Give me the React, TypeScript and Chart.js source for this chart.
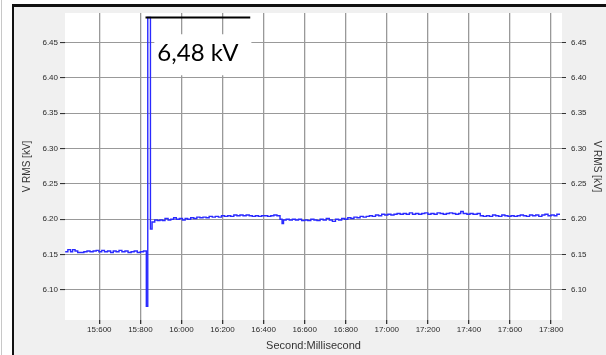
import React, { useEffect, useRef } from 'react';
import { Chart, registerables } from 'chart.js';
Chart.register(...registerables);

const timesMs = [
  15434, 15447, 15460, 15470, 15482, 15495, 15510, 15525, 15540, 15555,
  15570, 15585, 15598, 15612, 15625, 15640, 15655, 15668, 15682, 15696,
  15710, 15725, 15740, 15755, 15770, 15785, 15800, 15815, 15829, 15836,
  15849, 15857, 15870, 15883, 15895, 15908, 15920, 15935, 15948, 15962,
  15975, 15990, 16005, 16018, 16030, 16045, 16060, 16075, 16090, 16105,
  16120, 16135, 16150, 16165, 16180, 16195, 16210, 16225, 16240, 16255,
  16270, 16285, 16300, 16315, 16330, 16345, 16360, 16375, 16390, 16405,
  16420, 16435, 16450, 16465, 16480, 16490, 16497, 16510, 16525, 16540,
  16555, 16570, 16585, 16600, 16615, 16630, 16645, 16660, 16675, 16690,
  16705, 16720, 16735, 16750, 16765, 16780, 16795, 16810, 16825, 16840,
  16855, 16870, 16885, 16900, 16915, 16930, 16945, 16960, 16975, 16990,
  17005, 17020, 17035, 17050, 17065, 17080, 17095, 17110, 17125, 17140,
  17155, 17170, 17185, 17200, 17215, 17230, 17245, 17260, 17275, 17290,
  17305, 17320, 17335, 17350, 17360, 17372, 17390, 17405, 17420, 17440,
  17455, 17470, 17485, 17500, 17515, 17530, 17545, 17560, 17575, 17590,
  17605, 17620, 17635, 17650, 17665, 17680, 17695, 17710, 17725, 17740,
  17755, 17770, 17785, 17800, 17815, 17828, 17840,
];

const vrmsKv = [
  6.154, 6.157, 6.154, 6.157, 6.155, 6.153, 6.153, 6.154, 6.155, 6.154,
  6.155, 6.156, 6.154, 6.156, 6.154, 6.155, 6.153, 6.155, 6.154, 6.156,
  6.154, 6.155, 6.153, 6.154, 6.155, 6.153, 6.154, 6.155, 6.077, 6.485,
  6.186, 6.196, 6.199, 6.198, 6.199, 6.198, 6.201, 6.199, 6.200, 6.202,
  6.200, 6.201, 6.199, 6.201, 6.200, 6.202, 6.201, 6.203, 6.202, 6.203,
  6.202, 6.204, 6.203, 6.204, 6.203, 6.205, 6.204, 6.205, 6.204, 6.206,
  6.205, 6.206, 6.205, 6.206, 6.205, 6.204, 6.205, 6.204, 6.205, 6.205,
  6.204, 6.205, 6.206, 6.205, 6.200, 6.194, 6.199, 6.200, 6.199, 6.200,
  6.199, 6.200, 6.198, 6.199, 6.198, 6.200, 6.199, 6.198, 6.200, 6.199,
  6.201, 6.199, 6.197, 6.200, 6.199, 6.201, 6.200, 6.202, 6.201, 6.203,
  6.202, 6.204, 6.203, 6.204, 6.205, 6.204, 6.206, 6.205, 6.207, 6.206,
  6.207, 6.206, 6.207, 6.208, 6.207, 6.208, 6.207, 6.209, 6.207, 6.208,
  6.207, 6.208, 6.209, 6.207, 6.208, 6.207, 6.209, 6.208, 6.207, 6.208,
  6.209, 6.208, 6.207, 6.208, 6.211, 6.208, 6.207, 6.208, 6.207, 6.208,
  6.205, 6.204, 6.205, 6.204, 6.206, 6.205, 6.204, 6.206, 6.205, 6.204,
  6.205, 6.204, 6.205, 6.206, 6.205, 6.204, 6.206, 6.205, 6.206, 6.204,
  6.206, 6.207, 6.205, 6.206, 6.205, 6.207, 6.206,
];

const xTicks = [15600, 15800, 16000, 16200, 16400, 16600, 16800, 17000, 17200, 17400, 17600, 17800];
const yTicks = [6.10, 6.15, 6.20, 6.25, 6.30, 6.35, 6.40, 6.45];
const xRange = [15433, 17853];
const yRange = [6.0576, 6.4914];

const yTitle = 'V RMS [kV]';
const xTitle = 'Second:Millisecond';

const annotationText = '6,48 kV';
const annotationLineValue = 6.485;
const annotationLineFrom = 15825;
const annotationLineTo = 16335;
const annotationTextX = 16080;
const annotationTextY = 6.4345;

const fmtTime = (v: number) => `${Math.floor(v / 1000)}:${String(Math.round(v % 1000)).padStart(3, '0')}`;

export default function App() {
  const ref = useRef<HTMLCanvasElement>(null);
  useEffect(() => {
    const tickFont = { family: 'Liberation Sans', size: 8 };
    const bgPlugin = {
      id: 'plotBg',
      beforeDraw(chart: any) {
        const { ctx, chartArea } = chart;
        ctx.save();
        ctx.fillStyle = '#ffffff';
        ctx.fillRect(chartArea.left, chartArea.top, chartArea.right - chartArea.left, chartArea.bottom - chartArea.top);
        ctx.restore();
      },
    };
    const annPlugin = {
      id: 'annot',
      afterDatasetsDraw(chart: any) {
        const { ctx } = chart;
        const xs = chart.scales.x;
        const ys = chart.scales.y;
        ctx.save();
        ctx.font = '24px Lato';
        const tw = ctx.measureText(annotationText).width;
        const cx = xs.getPixelForValue(annotationTextX);
        const cy = ys.getPixelForValue(annotationTextY);
        ctx.fillStyle = '#ffffff';
        ctx.fillRect(cx - tw / 2 - 3, cy - 19, tw + 16, 41);
        ctx.fillStyle = '#000000';
        ctx.textAlign = 'center';
        ctx.textBaseline = 'middle';
        ctx.fillText(annotationText, cx, cy);
        const ly = ys.getPixelForValue(annotationLineValue);
        ctx.strokeStyle = '#000000';
        ctx.lineWidth = 2;
        ctx.beginPath();
        ctx.moveTo(xs.getPixelForValue(annotationLineFrom), ly);
        ctx.lineTo(xs.getPixelForValue(annotationLineTo), ly);
        ctx.stroke();
        ctx.restore();
      },
    };
    const chart = new Chart(ref.current!, {
      type: 'line',
      data: {
        datasets: [
          {
            data: timesMs.map((t, i) => ({ x: t, y: vrmsKv[i] })),
            borderColor: '#2a2aff',
            borderWidth: 1.4,
            pointRadius: 0,
            stepped: true,
            fill: false,
            yAxisID: 'y',
          },
        ],
      },
      options: {
        responsive: false,
        animation: false,
        layout: { padding: { left: 0, right: 0, top: 13, bottom: 0 } },
        plugins: { legend: { display: false }, tooltip: { enabled: false } },
        scales: {
          x: {
            type: 'linear',
            min: xRange[0],
            max: xRange[1],
            afterBuildTicks: (s: any) => { s.ticks = xTicks.map((v) => ({ value: v })); },
            afterFit: (s: any) => { s.height = 35; },
            border: { display: false },
            grid: { color: '#999999', lineWidth: 1.3, tickLength: 4, tickColor: '#333' },
            ticks: { font: tickFont, color: '#2a2a2a', padding: 1, maxRotation: 0, autoSkip: false, callback: (v: any) => fmtTime(Number(v)) },
            title: { display: true, text: xTitle, font: { family: 'Liberation Sans', size: 11 }, color: '#333', padding: { top: 0, bottom: 2.4 } },
          },
          y: {
            type: 'linear',
            position: 'left',
            min: yRange[0],
            max: yRange[1],
            afterBuildTicks: (s: any) => { s.ticks = yTicks.map((v) => ({ value: v })); },
            afterFit: (s: any) => { s.width = 65; },
            border: { display: false },
            grid: { color: '#999999', lineWidth: 1.1, tickLength: 5, tickColor: '#333' },
            ticks: { font: tickFont, color: '#2a2a2a', padding: 2, callback: (v: any) => Number(v).toFixed(2) },
            title: { display: true, text: yTitle, font: { family: 'Liberation Sans', size: 10 }, color: '#333', padding: { top: 21, bottom: 0 } },
          },
          y2: {
            type: 'linear',
            position: 'right',
            min: yRange[0],
            max: yRange[1],
            afterBuildTicks: (s: any) => { s.ticks = yTicks.map((v) => ({ value: v })); },
            afterFit: (s: any) => { s.width = 44; },
            border: { display: false },
            grid: { drawOnChartArea: false, tickLength: 4, tickColor: '#333' },
            ticks: { font: tickFont, color: '#2a2a2a', padding: 5, callback: (v: any) => Number(v).toFixed(2) },
            title: { display: true, text: yTitle, font: { family: 'Liberation Sans', size: 10 }, color: '#333', padding: { top: 3, bottom: 0 } },
          },
        },
      },
      plugins: [bgPlugin, annPlugin],
    });
    return () => chart.destroy();
  }, []);
  return (
    <div style={{ position: 'fixed', left: 0, top: 0, width: 606, height: 355, background: '#fff', overflow: 'hidden' }}>
      <div style={{ position: 'absolute', left: 1, top: 0, width: 1, height: 355, background: '#c8c8c8' }} />
      <div style={{ position: 'absolute', left: 12, top: 4, right: 0, bottom: 0, background: '#f0f0f0', borderLeft: '2px solid #111', borderTop: '3px solid #111' }} />
      <canvas ref={ref} width={606} height={355} style={{ position: 'absolute', left: 0, top: 0, width: 606, height: 355 }} />
    </div>
  );
}
